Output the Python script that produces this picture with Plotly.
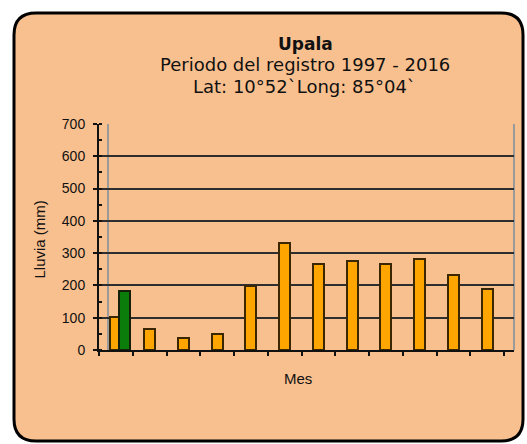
import plotly.graph_objects as go

# Monthly rainfall, Upala station
meses = ["Ene", "Feb", "Mar", "Abr", "May", "Jun", "Jul", "Ago", "Set", "Oct", "Nov", "Dic"]
lluvia = [102, 66, 36, 49, 198, 332, 267, 275, 266, 283, 231, 190]
destacado_mes = ["Ene"]
destacado_valor = [183]

W, H = 527, 444
PX0, PX1 = 99, 514      # plot area, px
PY0, PY1 = 124, 350

PEACH = "#F9C08F"
ORANGE = "#FFA500"
GREEN = "#0A7D0A"
OUTLINE = "#3A2700"


def fx(x):
    return (x - PX0) / (PX1 - PX0)


def fy(y):
    return (PY1 - y) / (PY1 - PY0)


def rounded_rect(l, t, r, b, rad):
    pts = [
        f"M {fx(l + rad)},{fy(t)}",
        f"L {fx(r - rad)},{fy(t)}",
        f"Q {fx(r)},{fy(t)} {fx(r)},{fy(t + rad)}",
        f"L {fx(r)},{fy(b - rad)}",
        f"Q {fx(r)},{fy(b)} {fx(r - rad)},{fy(b)}",
        f"L {fx(l + rad)},{fy(b)}",
        f"Q {fx(l)},{fy(b)} {fx(l)},{fy(b - rad)}",
        f"L {fx(l)},{fy(t + rad)}",
        f"Q {fx(l)},{fy(t)} {fx(l + rad)},{fy(t)}",
        "Z",
    ]
    return " ".join(pts)


fig = go.Figure()
fig.add_trace(go.Bar(
    x=meses, y=lluvia, width=0.32,
    marker=dict(color=ORANGE, line=dict(color=OUTLINE, width=2)),
    showlegend=False,
))
fig.add_trace(go.Bar(
    x=destacado_mes, y=destacado_valor, width=0.33, offset=0.10,
    marker=dict(color=GREEN, line=dict(color="#14200A", width=2)),
    showlegend=False,
))

shapes = [
    dict(type="path", xref="paper", yref="paper", layer="below",
         path=rounded_rect(14, 13, 523, 441, 22),
         fillcolor=PEACH, line=dict(color="black", width=3)),
    # back-wall edges
    dict(type="line", xref="paper", yref="paper", layer="below",
         x0=fx(108), x1=fx(108), y0=0, y1=1,
         line=dict(color="#9A9A9A", width=2)),
    dict(type="line", xref="paper", yref="paper", layer="below",
         x0=1, x1=1, y0=0, y1=1,
         line=dict(color="#9A9A9A", width=2)),
]

title_font = dict(family="DejaVu Sans", color="#111111")
axis_font = dict(family="Liberation Sans, Arial", color="#111111")
annotations = [
    dict(text="<b>Upala</b>", x=fx(305), y=fy(44.5), font=dict(size=17, **title_font)),
    dict(text="Periodo del registro 1997 - 2016", x=fx(305), y=fy(64.5),
         font=dict(size=18, **title_font)),
    dict(text="Lat: 10°52`Long: 85°04`", x=fx(304), y=fy(86),
         font=dict(size=18, **title_font)),
    dict(text="Mes", x=fx(298), y=fy(378), font=dict(size=15, **axis_font)),
    dict(text="Lluvia (mm)", x=fx(38.5), y=fy(240), textangle=-90,
         font=dict(size=15, **axis_font)),
]
for a in annotations:
    a.update(xref="paper", yref="paper", showarrow=False,
             xanchor="center", yanchor="middle")

fig.update_layout(
    width=W, height=H,
    margin=dict(l=PX0, r=W - PX1, t=PY0, b=H - PY1, autoexpand=False),
    paper_bgcolor="white",
    plot_bgcolor="rgba(0,0,0,0)",
    barmode="overlay",
    bargap=0,
    shapes=shapes,
    annotations=annotations,
    xaxis=dict(
        type="category", range=[-0.5, 11.5 + 10 / 33.75],
        showticklabels=False, showgrid=False, zeroline=False,
        showline=True, linecolor="#111111", linewidth=2,
        ticks="outside", tickson="boundaries", ticklen=4,
        tickcolor="#111111", tickwidth=1.5,
    ),
    yaxis=dict(
        range=[0, 700], dtick=100, tick0=0,
        showgrid=True, gridcolor="#2E2E2E", gridwidth=2,
        zeroline=False, showline=True, linecolor="#111111", linewidth=2,
        ticks="outside", ticklen=4, tickcolor="#111111", tickwidth=1.5,
        minor=dict(dtick=50, ticks="inside", ticklen=3, tickcolor="#111111",
                   showgrid=False),
        ticklabelstandoff=5,
        tickfont=dict(size=14, **axis_font),
    ),
)

fig.write_html("out.html")
